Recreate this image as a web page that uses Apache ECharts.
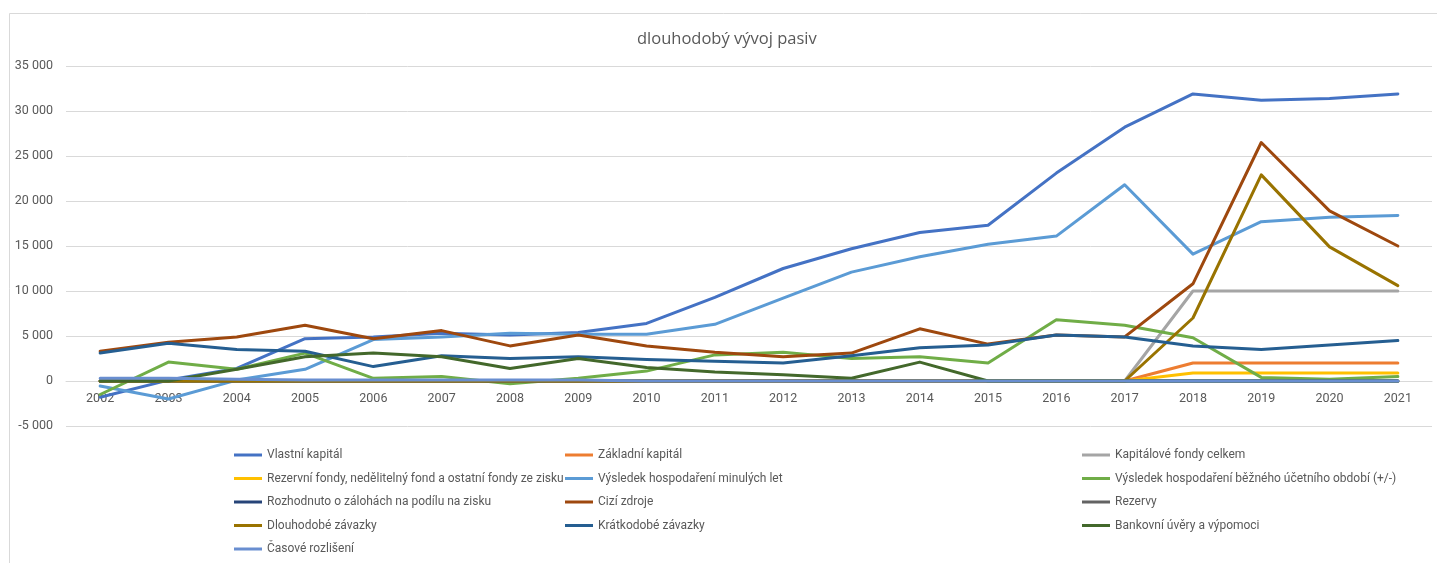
<!DOCTYPE html>
<html>
<head>
<meta charset="utf-8">
<script src="https://cdn.jsdelivr.net/npm/echarts@6/dist/echarts.min.js"></script>
<style>
html,body{margin:0;padding:0;background:#fff;}
#c{width:1437px;height:563px;}
</style>
</head>
<body>
<div id="c"></div>
<script>
const years = ['2002','2003','2004','2005','2006','2007','2008','2009','2010','2011','2012','2013','2014','2015','2016','2017','2018','2019','2020','2021'];
const yTicks = {min: -5000, max: 35000, step: 5000};

const vlastniKapital      = [-1800, 100, 1400, 4700, 4900, 5300, 5100, 5400, 6400, 9300, 12500, 14700, 16500, 17300, 23100, 28200, 31900, 31200, 31400, 31900];
const zakladniKapital     = [0, 0, 0, 0, 0, 0, 0, 0, 0, 0, 0, 0, 0, 0, 0, 0, 2000, 2000, 2000, 2000];
const kapitaloveFondy     = [0, 0, 0, 0, 0, 0, 0, 0, 0, 0, 0, 0, 0, 0, 0, 0, 10000, 10000, 10000, 10000];
const rezervniFondy       = [0, 0, 0, 0, 0, 0, 0, 0, 0, 0, 0, 0, 0, 0, 0, 0, 900, 900, 900, 900];
const vysledekMinulych    = [-550, -2000, 100, 1300, 4600, 4900, 5300, 5200, 5200, 6300, 9200, 12100, 13800, 15200, 16100, 21800, 14100, 17700, 18200, 18400];
const vysledekBezneho     = [-1500, 2100, 1300, 3100, 300, 500, -300, 300, 1100, 2900, 3200, 2500, 2700, 2000, 6800, 6200, 4800, 400, 200, 500];
const rozhodnutoZalohy    = [0, 0, 0, 0, 0, 0, 0, 0, 0, 0, 0, 0, 0, 0, 0, 0, 0, 0, 0, 0];
const ciziZdroje          = [3300, 4300, 4900, 6200, 4700, 5600, 3900, 5100, 3900, 3200, 2700, 3100, 5800, 4100, 5100, 4900, 10800, 26500, 18900, 15000];
const rezervy             = [0, 0, 0, 0, 0, 0, 0, 0, 0, 0, 0, 0, 0, 0, 0, 0, 0, 0, 0, 0];
const dlouhodobeZavazky   = [0, 0, 0, 0, 0, 0, 0, 0, 0, 0, 0, 0, 0, 0, 0, 0, 7000, 22900, 14900, 10600];
const kratkodobeZavazky   = [3100, 4200, 3500, 3300, 1600, 2800, 2500, 2700, 2400, 2200, 2000, 2800, 3700, 4000, 5100, 4900, 3900, 3500, 4000, 4500];
const bankovniUvery       = [0, 0, 1300, 2700, 3100, 2700, 1400, 2500, 1500, 1000, 700, 300, 2100, 0, 0, 0, 0, 0, 0, 0];
const casoveRozliseni     = [300, 300, 200, 100, 100, 100, 100, 100, 0, 0, 0, 0, 0, 0, 0, 0, 0, 0, 0, 0];

const seriesDefs = [
  ['Vlastní kapitál', vlastniKapital, '#4472C4'],
  ['Základní kapitál', zakladniKapital, '#ED7D31'],
  ['Kapitálové fondy celkem', kapitaloveFondy, '#A5A5A5'],
  ['Rezervní fondy, nedělitelný fond a ostatní fondy ze zisku', rezervniFondy, '#FFC000'],
  ['Výsledek hospodaření minulých let', vysledekMinulych, '#5B9BD5'],
  ['Výsledek hospodaření běžného účetního období (+/-)', vysledekBezneho, '#70AD47'],
  ['Rozhodnuto o zálohách na podílu na zisku', rozhodnutoZalohy, '#264478'],
  ['Cizí zdroje', ciziZdroje, '#9E480E'],
  ['Rezervy', rezervy, '#636363'],
  ['Dlouhodobé závazky', dlouhodobeZavazky, '#997300'],
  ['Krátkodobé závazky', kratkodobeZavazky, '#255E91'],
  ['Bankovní úvěry a výpomoci', bankovniUvery, '#43682B'],
  ['Časové rozlišení', casoveRozliseni, '#698ED0']
];

const legendCols = [
  {left: 234, items: ['Vlastní kapitál','Rezervní fondy, nedělitelný fond a ostatní fondy ze zisku','Rozhodnuto o zálohách na podílu na zisku','Dlouhodobé závazky','Časové rozlišení']},
  {left: 565, items: ['Základní kapitál','Výsledek hospodaření minulých let','Cizí zdroje','Krátkodobé závazky']},
  {left: 1082, items: ['Kapitálové fondy celkem','Výsledek hospodaření běžného účetního období (+/-)','Rezervy','Bankovní úvěry a výpomoci']}
];

const FONT = 'Roboto, sans-serif';
const TXT = '#595959';

function fmt(v){
  const s = String(Math.abs(v)).replace(/\B(?=(\d{3})+(?!\d))/g, ' ');
  return (v < 0 ? '-' : '') + s;
}

const chart = echarts.init(document.getElementById('c'), null, {renderer: 'canvas'});
chart.setOption({
  animation: false,
  backgroundColor: '#fff',
  title: {
    text: 'dlouhodobý vývoj pasiv',
    left: 632, top: 26,
    textStyle: {fontFamily: '"Open Sans", sans-serif', fontSize: 16.5, fontWeight: 'normal', color: TXT}
  },
  graphic: [{
    type: 'rect', silent: true,
    shape: {x: 9.5, y: 13.5, width: 1500, height: 600},
    style: {fill: 'none', stroke: '#D9D9D9', lineWidth: 1}
  }],
  legend: legendCols.map(c => ({
    orient: 'vertical',
    left: c.left, top: 448,
    height: 115,
    padding: 0,
    data: c.items,
    icon: 'rect',
    itemWidth: 28, itemHeight: 3,
    itemGap: 9.5,
    selectedMode: false,
    textStyle: {fontFamily: FONT, fontSize: 12, color: TXT, lineHeight: 14}
  })),
  grid: {left: 66, right: 5, top: 66, bottom: 137, containLabel: false, outerBoundsMode: 'none'},
  xAxis: {
    type: 'category',
    data: years,
    boundaryGap: true,
    position: 'bottom',
    offset: -45,
    axisLine: {show: true, onZero: false, lineStyle: {color: '#D9D9D9', width: 1}},
    axisTick: {show: false},
    axisLabel: {margin: 11, color: TXT, fontFamily: FONT, fontSize: 12.5},
    splitLine: {show: false}
  },
  yAxis: {
    type: 'value',
    min: yTicks.min, max: yTicks.max, interval: yTicks.step,
    axisLine: {show: false},
    axisTick: {show: false},
    axisLabel: {margin: 13, color: TXT, fontFamily: FONT, fontSize: 12.5, formatter: fmt},
    splitLine: {lineStyle: {color: '#D9D9D9', width: 1}}
  },
  series: seriesDefs.map(([name, data, color]) => ({
    name, type: 'line', data,
    showSymbol: false, symbol: 'none',
    color,
    lineStyle: {color, width: 3, cap: 'round', join: 'round'},
    emphasis: {disabled: true}
  }))
});
</script>
</body>
</html>
